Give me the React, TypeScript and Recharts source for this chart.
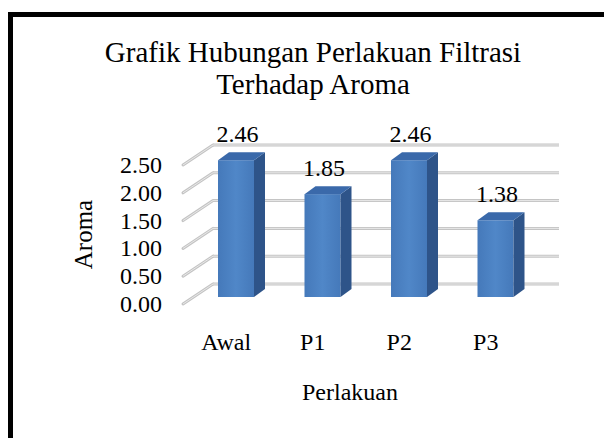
import React from 'react';
import { BarChart, Bar, XAxis, YAxis, CartesianGrid, LabelList } from 'recharts';

const categories = ['Awal', 'P1', 'P2', 'P3'];
const aromaValues = [2.46, 1.85, 2.46, 1.38];
const yTicks = [0, 0.5, 1, 1.5, 2, 2.5];
const titleLines = ['Grafik Hubungan Perlakuan Filtrasi', 'Terhadap Aroma'];
const xAxisTitle = 'Perlakuan';
const yAxisTitle = 'Aroma';

const data = categories.map((name, i) => ({ name, aroma: aromaValues[i] }));

const FONT = '"Liberation Serif", "Times New Roman", serif';
const DEPTH_X = 30;
const DEPTH_Y = -20;
const BAR_SHIFT_X = 10;
const BAR_SHIFT_Y = -7;
const BAR_DX = 11;
const BAR_DY = -8;

const GridLine = (p: any) => {
  const { x1, x2, y1 } = p;
  const bx = x1 + DEPTH_X;
  const by = y1 + DEPTH_Y;
  return (
    <g key={p.key}>
      <line x1={x1} y1={y1} x2={bx} y2={by} stroke="#C4C4C4" strokeWidth={3} strokeLinecap="round" />
      <line x1={x1} y1={y1} x2={bx} y2={by} stroke="#E8E8E8" strokeWidth={1} />
      <line x1={bx} y1={by} x2={x2 + DEPTH_X} y2={by} stroke="#C4C4C4" strokeWidth={3} />
      <line x1={bx} y1={by} x2={x2 + DEPTH_X} y2={by} stroke="#E8E8E8" strokeWidth={1} />
    </g>
  );
};

const Bar3D = (p: any) => {
  const { x, y, width, height } = p;
  if (width == null || height == null) return null;
  const fx = x + BAR_SHIFT_X;
  const fy = y + BAR_SHIFT_Y;
  const w = width;
  const h = height;
  const top = `${fx},${fy} ${fx + BAR_DX},${fy + BAR_DY} ${fx + w + BAR_DX},${fy + BAR_DY} ${fx + w},${fy}`;
  const side = `${fx + w},${fy} ${fx + w + BAR_DX},${fy + BAR_DY} ${fx + w + BAR_DX},${fy + h + BAR_DY} ${fx + w},${fy + h}`;
  return (
    <g>
      <rect x={fx} y={fy} width={w} height={h} fill="url(#frontGrad)" />
      <polygon points={side} fill="#2E5489" />
      <polygon points={top} fill="#3A69AA" />
    </g>
  );
};

const ValueLabel = (p: any) => {
  const { x, y, width, value } = p;
  return (
    <text
      x={x + BAR_SHIFT_X + width / 2 + 1.5}
      y={y + BAR_SHIFT_Y - 18}
      textAnchor="middle"
      fontFamily={FONT}
      fontSize={24}
      fill="#000"
    >
      {Number(value).toFixed(2)}
    </text>
  );
};

const XTick = (p: any) => {
  const { x, payload } = p;
  return (
    <text x={x} y={350} textAnchor="middle" fontFamily={FONT} fontSize={24} fill="#000">
      {payload.value}
    </text>
  );
};

const YTick = (p: any) => {
  const { y, payload } = p;
  return (
    <text x={162} y={y} dy={8} textAnchor="end" fontFamily={FONT} fontSize={24} fill="#000">
      {Number(payload.value).toFixed(2)}
    </text>
  );
};

export default function App() {
  return (
    <div style={{ position: 'absolute', left: 0, top: 0, width: 604, height: 438, overflow: 'hidden', background: '#fff' }}>
      <div
        style={{
          position: 'absolute',
          left: 8,
          top: 12,
          width: 700,
          height: 600,
          borderLeft: '5px solid #000',
          borderTop: '5px solid #000',
          boxSizing: 'border-box',
        }}
      />
      <div
        style={{
          position: 'absolute',
          left: 0,
          top: 36,
          width: 626,
          textAlign: 'center',
          fontFamily: FONT,
          fontSize: 29,
          lineHeight: '32px',
          color: '#000',
        }}
      >
        {titleLines.map((t) => (
          <div key={t}>{t}</div>
        ))}
      </div>
      <div style={{ position: 'absolute', left: 0, top: 0 }}>
        <BarChart width={604} height={438} data={data} margin={{ top: 165, right: 75, bottom: 0, left: 0 }}>
          <defs>
            <linearGradient id="frontGrad" x1="0" y1="0" x2="1" y2="0">
              <stop offset="0%" stopColor="#4579BA" />
              <stop offset="50%" stopColor="#5087C8" />
              <stop offset="100%" stopColor="#4579BA" />
            </linearGradient>
          </defs>
          <CartesianGrid vertical={false} horizontal={GridLine as any} />
          <XAxis
            dataKey="name"
            axisLine={false}
            tickLine={false}
            height={134}
            tick={<XTick />}
            interval={0}
            label={{
              content: (lp: any) => {
                const vb = lp.viewBox;
                return (
                  <text x={vb.x + vb.width / 2 - 6} y={400} textAnchor="middle" fontFamily={FONT} fontSize={24} fill="#000">
                    {xAxisTitle}
                  </text>
                );
              },
            }}
          />
          <YAxis
            type="number"
            domain={[0, 2.5]}
            ticks={yTicks}
            axisLine={false}
            tickLine={false}
            width={183}
            tick={<YTick />}
            interval={0}
            label={{
              content: (lp: any) => {
                const vb = lp.viewBox;
                const cy = vb.y + vb.height / 2;
                return (
                  <text
                    x={92}
                    y={cy}
                    transform={`rotate(-90, 92, ${cy})`}
                    textAnchor="middle"
                    fontFamily={FONT}
                    fontSize={25}
                    fill="#000"
                  >
                    {yAxisTitle}
                  </text>
                );
              },
            }}
          />
          <Bar dataKey="aroma" barSize={36} shape={Bar3D} isAnimationActive={false}>
            <LabelList dataKey="aroma" content={ValueLabel} />
          </Bar>
        </BarChart>
      </div>
    </div>
  );
}
